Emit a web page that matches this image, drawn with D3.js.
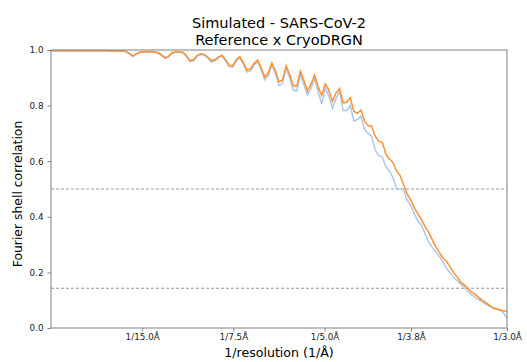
<!DOCTYPE html>
<html>
<head>
<meta charset="utf-8">
<script src="https://cdn.jsdelivr.net/npm/d3@7"></script>
<style>
  body { margin: 0; background: #fff; }
  svg text { font-family: "DejaVu Sans", sans-serif; }
</style>
</head>
<body>
<div id="chart"></div>
<script>
var svgWidth = 527;
var svgHeight = 362;
var margin = { top: 50, right: 20, bottom: 34, left: 51 };
var width = 456;
var height = 278;

// spatial frequency runs 0 .. Nyquist (1/3.0 A) in 128 shells
var nShells = 128;
var nyquist = 1 / 3.0;

var xTickRes = [15.0, 7.5, 5.0, 3.8, 3.0];
var yTicks = [0.0, 0.2, 0.4, 0.6, 0.8, 1.0];
var thresholds = [0.5, 0.143];

// FSC curves, one value per shell
var fscCryodrgn = [
  0.997, 0.997, 0.997, 0.997, 0.997, 0.997, 0.997, 0.997, 0.997, 0.997,
  0.997, 0.997, 0.997, 0.997, 0.997, 0.997, 0.997, 0.996, 0.996, 0.996,
  0.996, 0.995, 0.988, 0.979, 0.987, 0.993, 0.994, 0.994, 0.994, 0.993,
  0.990, 0.983, 0.972, 0.978, 0.990, 0.993, 0.993, 0.992, 0.980, 0.962,
  0.965, 0.980, 0.986, 0.984, 0.975, 0.962, 0.965, 0.975, 0.981, 0.965,
  0.945, 0.943, 0.965, 0.976, 0.955, 0.928, 0.932, 0.952, 0.964, 0.935,
  0.903, 0.918, 0.953, 0.925, 0.885, 0.892, 0.943, 0.912, 0.872, 0.870,
  0.924, 0.890, 0.852, 0.878, 0.910, 0.868, 0.836, 0.878, 0.855, 0.815,
  0.845, 0.862, 0.810, 0.812, 0.828, 0.780, 0.772, 0.784, 0.745, 0.728,
  0.726, 0.690, 0.672, 0.668, 0.625, 0.608, 0.595, 0.565, 0.548, 0.515,
  0.482, 0.460, 0.432, 0.410, 0.390, 0.365, 0.345, 0.318, 0.292, 0.272,
  0.253, 0.240, 0.221, 0.200, 0.184, 0.165, 0.155, 0.143, 0.130, 0.122,
  0.110, 0.100, 0.092, 0.082, 0.072, 0.068, 0.065, 0.062, 0.060
];

var fscReference = [
  0.997, 0.997, 0.997, 0.997, 0.997, 0.997, 0.997, 0.997, 0.997, 0.997,
  0.997, 0.997, 0.997, 0.997, 0.997, 0.997, 0.997, 0.996, 0.996, 0.996,
  0.996, 0.995, 0.986, 0.976, 0.985, 0.992, 0.993, 0.993, 0.993, 0.993,
  0.989, 0.981, 0.969, 0.975, 0.988, 0.992, 0.992, 0.990, 0.977, 0.958,
  0.961, 0.977, 0.984, 0.982, 0.972, 0.957, 0.960, 0.972, 0.978, 0.961,
  0.940, 0.938, 0.960, 0.972, 0.950, 0.921, 0.925, 0.946, 0.958, 0.928,
  0.893, 0.908, 0.946, 0.915, 0.872, 0.880, 0.934, 0.900, 0.856, 0.852,
  0.910, 0.875, 0.838, 0.862, 0.898, 0.850, 0.805, 0.862, 0.835, 0.790,
  0.825, 0.852, 0.782, 0.782, 0.800, 0.745, 0.750, 0.762, 0.715, 0.700,
  0.690, 0.640, 0.620, 0.616, 0.580, 0.565, 0.540, 0.500, 0.500, 0.497,
  0.460, 0.440, 0.410, 0.385, 0.370, 0.338, 0.310, 0.290, 0.273, 0.258,
  0.240, 0.215, 0.200, 0.184, 0.170, 0.158, 0.146, 0.133, 0.120, 0.110,
  0.102, 0.094, 0.086, 0.079, 0.074, 0.070, 0.066, 0.055, 0.035
];

var svg = d3.select("#chart")
  .append("svg")
  .attr("width", svgWidth)
  .attr("height", svgHeight);

var chartGroup = svg.append("g")
  .attr("transform", `translate(${margin.left}, ${margin.top})`);

var xScale = d3.scaleLinear()
  .domain([0, nyquist])
  .range([0, width]);

var yScale = d3.scaleLinear()
  .domain([0, 1])
  .range([height, 0]);

// threshold lines
chartGroup.selectAll(".thresh")
  .data(thresholds)
  .enter()
  .append("line")
  .attr("x1", 0)
  .attr("x2", width)
  .attr("y1", d => yScale(d))
  .attr("y2", d => yScale(d))
  .attr("stroke", "#999")
  .attr("stroke-width", 1)
  .attr("stroke-dasharray", "3,2");

var line = d3.line()
  .x((d, i) => xScale(i / nShells * nyquist))
  .y(d => yScale(d));

chartGroup.append("path")
  .datum(fscReference)
  .attr("fill", "none")
  .attr("stroke", "#aec7e8")
  .attr("stroke-width", 1.5)
  .attr("d", line);

chartGroup.append("path")
  .datum(fscCryodrgn)
  .attr("fill", "none")
  .attr("stroke", "#ff9030")
  .attr("stroke-width", 1.5)
  .attr("d", line);

// axes
var bottomAxis = d3.axisBottom(xScale)
  .tickValues(xTickRes.map(r => 1 / r))
  .tickFormat((d, i) => "1/" + xTickRes[i].toFixed(1) + "Å")
  .tickSize(3.5)
  .tickPadding(2.5);

var leftAxis = d3.axisLeft(yScale)
  .tickValues(yTicks)
  .tickFormat(d3.format(".1f"))
  .tickSize(3.5)
  .tickPadding(4);

var xAxis = chartGroup.append("g")
  .attr("transform", `translate(0, ${height})`)
  .call(bottomAxis);

var yAxis = chartGroup.append("g")
  .call(leftAxis);

[xAxis, yAxis].forEach(function(ax) {
  ax.select(".domain").remove();
  ax.selectAll("line").attr("stroke", "#808080");
  ax.selectAll("text")
    .attr("fill", "#222")
    .style("font-size", "8.8px");
});

// frame
chartGroup.append("rect")
  .attr("width", width)
  .attr("height", height)
  .attr("fill", "none")
  .attr("stroke", "#808080")
  .attr("stroke-width", 1);

// titles
svg.append("text")
  .attr("x", margin.left + width / 2)
  .attr("y", 28)
  .attr("text-anchor", "middle")
  .style("font-size", "14.5px")
  .text("Simulated - SARS-CoV-2");

svg.append("text")
  .attr("x", margin.left + width / 2)
  .attr("y", 45)
  .attr("text-anchor", "middle")
  .style("font-size", "14.5px")
  .text("Reference x CryoDRGN");

svg.append("text")
  .attr("x", margin.left + width / 2)
  .attr("y", 357)
  .attr("text-anchor", "middle")
  .style("font-size", "12.6px")
  .text("1/resolution (1/Å)");

svg.append("text")
  .attr("transform", "rotate(-90)")
  .attr("x", -(margin.top + height / 2) - 5)
  .attr("y", 22)
  .attr("text-anchor", "middle")
  .style("font-size", "12.4px")
  .text("Fourier shell correlation");
</script>
</body>
</html>
